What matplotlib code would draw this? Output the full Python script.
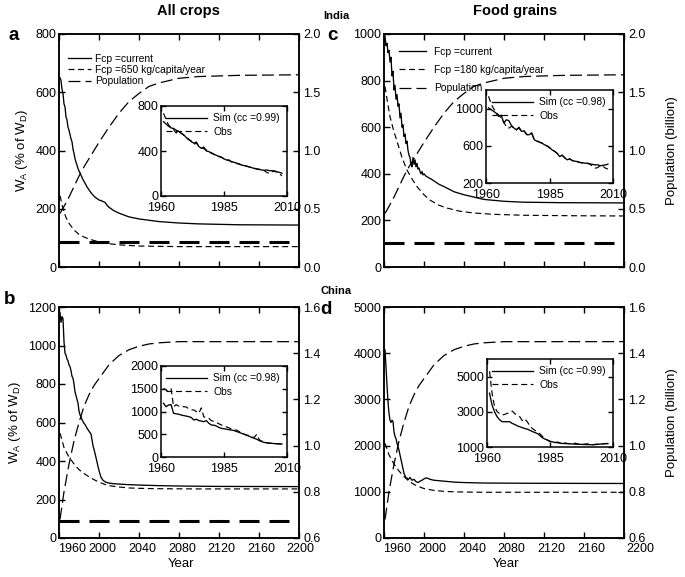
import matplotlib
matplotlib.use("Agg")
import matplotlib.pyplot as plt
import matplotlib.transforms as mtransforms

plt.rcParams['font.family'] = ['Liberation Sans', 'DejaVu Sans']
plt.rcParams['mathtext.default'] = 'regular'
plt.rcParams['lines.scale_dashes'] = False

# ---------------- data ----------------
# India, all crops (panel a)
a_years = [1961, 1962, 1963, 1964, 1965, 1966, 1967, 1968, 1969, 1970, 1971, 1972, 1973, 1974, 1975,
           1976, 1977, 1978, 1979, 1980, 1982, 1984, 1986, 1988, 1990, 1992, 1994, 1996, 1998, 2000,
           2002, 2004, 2006, 2008, 2010, 2015, 2020, 2030, 2040, 2060, 2080, 2100, 2140, 2200]
a_current = [650, 640, 610, 595, 560, 550, 515, 505, 480, 470, 455, 440, 430, 405, 390,
             372, 360, 350, 338, 330, 315, 300, 288, 275, 265, 255, 247, 240, 235, 230,
             228, 225, 222, 212, 205, 193, 185, 172, 165, 156, 151, 148, 145, 144]
a_fcp_years = [1961, 1964, 1967, 1970, 1975, 1980, 1985, 1990, 2000, 2010, 2020, 2040, 2060, 2080, 2120, 2200]
a_fcp = [245, 200, 170, 150, 127, 112, 103, 96, 86, 80, 76, 72, 71, 70, 70, 70]
a_threshold = 85

# India population (panels a, c)
pop_years_in = [1961, 1965, 1970, 1975, 1980, 1985, 1990, 1995, 2000, 2010, 2020, 2030, 2040,
                2050, 2060, 2080, 2100, 2140, 2200]
pop_india = [0.46, 0.52, 0.60, 0.69, 0.78, 0.86, 0.93, 1.00, 1.07, 1.20, 1.32, 1.42, 1.49,
             1.55, 1.58, 1.62, 1.635, 1.645, 1.65]

# India, food grains (panel c)
c_years = [1961, 1962, 1963, 1964, 1965, 1966, 1967, 1968, 1969, 1970, 1971, 1972, 1973, 1974,
           1975, 1976, 1977, 1978, 1979, 1980, 1981, 1982, 1983, 1984, 1985, 1986, 1987, 1988,
           1989, 1990, 1991, 1992, 1993, 1994, 1995, 1996, 1997, 1998, 1999, 2000, 2002, 2004,
           2006, 2008, 2015, 2020, 2030, 2040, 2060, 2080, 2100, 2140, 2200]
c_current = [990, 950, 960, 920, 930, 880, 900, 820, 840, 760, 780, 720, 740, 690,
             700, 640, 660, 600, 610, 560, 570, 530, 540, 500, 480, 470, 440, 430,
             470, 440, 460, 430, 445, 420, 425, 410, 400, 410, 395, 400, 390, 385,
             380, 375, 355, 345, 323, 310, 290, 282, 278, 276, 275]
c_fcp_years = [1961, 1963, 1966, 1970, 1973, 1978, 1983, 1988, 1993, 2000, 2006, 2015, 2023,
               2035, 2049, 2070, 2100, 2150, 2200]
c_fcp = [775, 720, 645, 580, 540, 470, 416, 378, 345, 310, 287, 265, 253, 240, 232, 226, 222, 220, 219]
c_threshold = 105

# China, all crops (panel b)
b_years = [1961, 1962, 1963, 1964, 1965, 1966, 1967, 1968, 1969, 1970, 1971, 1972, 1973, 1974,
           1975, 1976, 1977, 1978, 1979, 1980, 1981, 1982, 1983, 1984, 1985, 1986, 1988, 1990,
           1992, 1994, 1996, 1998, 2000, 2002, 2004, 2006, 2008, 2010, 2015, 2020, 2030, 2040,
           2060, 2080, 2120, 2200]
b_current = [1170, 1120, 1150, 1140, 1020, 960, 950, 930, 920, 900, 890, 870, 840, 830,
             800, 760, 740, 720, 700, 660, 640, 630, 615, 605, 595, 590, 570, 555,
             540, 480, 440, 395, 350, 315, 300, 292, 288, 285, 282, 280, 277, 275,
             272, 270, 268, 267]
b_fcp_years = [1961, 1965, 1970, 1975, 1980, 1985, 1990, 1995, 2000, 2005, 2010, 2020, 2030,
               2040, 2060, 2100, 2200]
b_fcp = [545, 470, 420, 385, 355, 335, 318, 303, 290, 280, 272, 265, 260, 258, 256, 255, 255]
b_threshold = 87

# China population (panels b, d)
pop_years_cn = [1961, 1965, 1970, 1975, 1980, 1985, 1990, 1995, 2000, 2005, 2010, 2020, 2030,
                2040, 2050, 2060, 2080, 2100, 2200]
pop_china = [0.68, 0.80, 0.92, 1.02, 1.10, 1.17, 1.22, 1.26, 1.29, 1.32, 1.35, 1.39, 1.415,
             1.43, 1.44, 1.445, 1.45, 1.45, 1.45]

# China, food grains (panel d)
d_years = [1961, 1962, 1963, 1964, 1965, 1966, 1967, 1968, 1969, 1970, 1971, 1972, 1973, 1974,
           1975, 1976, 1977, 1978, 1979, 1980, 1981, 1982, 1983, 1984, 1986, 1988, 1990, 1992,
           1994, 1996, 1998, 2000, 2002, 2004, 2006, 2008, 2010, 2020, 2030, 2040, 2060, 2100, 2200]
d_current = [4070, 3700, 3300, 2950, 2700, 2550, 2500, 2550, 2520, 2300, 2200, 2150, 2050, 1980,
             1900, 1800, 1700, 1600, 1500, 1400, 1350, 1290, 1300, 1260, 1310, 1250, 1270, 1220,
             1200, 1230, 1250, 1280, 1300, 1290, 1270, 1260, 1250, 1230, 1210, 1200, 1190, 1185, 1180]
d_fcp_years = [1961, 1965, 1970, 1975, 1980, 1985, 1990, 1995, 2000, 2010, 2020, 2030, 2040,
               2060, 2100, 2200]
d_fcp = [2050, 1800, 1600, 1450, 1330, 1230, 1160, 1110, 1070, 1030, 1010, 1000, 995, 990, 990, 990]

# Insets: simulated vs observed, 1961-2008
inset_years = list(range(1961, 2009))
ia_sim = [660, 640, 620, 605, 600, 585, 575, 557, 545, 520, 505, 483, 470, 480, 440, 424, 435, 400,
          395, 380, 370, 362, 350, 344, 330, 320, 315, 305, 300, 292, 285, 275, 270, 265, 258, 252,
          245, 240, 236, 231, 228, 232, 225, 225, 218, 215, 210, 202]
ia_obs = [735, 680, 631, 610, 590, 560, 580, 560, 540, 515, 500, 490, 460, 470, 445, 430, 420, 410,
          390, 385, 372, 360, 355, 345, 330, 325, 320, 303, 295, 290, 282, 278, 268, 265, 260, 250,
          248, 240, 238, 232, 225, 210, 200, 215, 225, 215, 200, 178]
ic_sim = [1008, 990, 971, 950, 917, 930, 845, 880, 870, 820, 791, 770, 800, 755, 760, 720, 719, 740,
          665, 650, 640, 630, 611, 600, 580, 557, 540, 520, 484, 500, 470, 449, 460, 440, 435, 430,
          420, 418, 413, 413, 405, 400, 395, 395, 385, 390, 395, 402]
ic_obs = [1133, 1050, 1000, 960, 930, 900, 860, 800, 790, 810, 790, 780, 790, 750, 760, 725, 715, 730,
          670, 655, 640, 628, 612, 598, 582, 555, 542, 518, 488, 498, 472, 450, 458, 442, 433, 428,
          422, 415, 412, 410, 400, 380, 360, 365, 390, 380, 360, 350]
ib_sim = [1180, 1105, 1143, 1150, 960, 950, 940, 923, 910, 900, 886, 870, 813, 830, 800, 790, 776, 800,
          740, 703, 700, 680, 650, 630, 620, 610, 600, 593, 580, 560, 540, 520, 500, 480, 455, 432,
          410, 390, 360, 337, 320, 310, 305, 300, 295, 292, 290, 286]
ib_obs = [1510, 1470, 1436, 1500, 1105, 1150, 1120, 1110, 1105, 1100, 1060, 1040, 1033, 1000, 960,
          1080, 880, 870, 850, 800, 780, 760, 730, 703, 680, 660, 640, 615, 600, 590, 560, 520, 500,
          480, 470, 440, 430, 500, 380, 350, 330, 315, 305, 300, 295, 290, 288, 285]
id_sim = [4060, 3390, 3000, 2722, 2550, 2435, 2435, 2440, 2435, 2340, 2280, 2205, 2150, 2100, 2050,
          2015, 1950, 1880, 1820, 1765, 1650, 1520, 1450, 1385, 1330, 1287, 1260, 1240, 1220, 1200,
          1195, 1190, 1180, 1170, 1160, 1155, 1150, 1145, 1140, 1135, 1130, 1130, 1140, 1150, 1165,
          1175, 1185, 1190]
id_obs = [5300, 4060, 3300, 3010, 2900, 2820, 2850, 2910, 2950, 3045, 2900, 2800, 2722, 2500, 2600,
          2430, 2200, 2050, 1950, 1850, 1750, 1600, 1500, 1400, 1300, 1320, 1250, 1280, 1240, 1220,
          1230, 1200, 1190, 1180, 1220, 1170, 1160, 1150, 1170, 1180, 1140, 1130, 1150, 1170, 1180,
          1190, 1200, 1200]

main_xticks = [1960, 2000, 2040, 2080, 2120, 2160, 2200]

# ---------------- styles ----------------
DPI = 100
W, H = 685, 577
LW_SOLID = 0.95
LS_FCP = (0, (4.3, 2.6))
LS_POP = (0, (8.6, 3.6))
LS_THR = (0, (14.4, 7.2))
TICK_FS = 9
LEG_FS = 7.4

fig = plt.figure(figsize=(W / DPI, H / DPI), dpi=DPI)


def fx(px):
    return px / W


def fy(py):
    return 1 - py / H


def box(l, t, r, b):
    return [fx(l), fy(b), fx(r) - fx(l), fy(t) - fy(b)]


def style_axis(ax):
    for s in ax.spines.values():
        s.set_linewidth(1.1)
    ax.tick_params(direction='in', length=4.5, width=1.0, labelsize=TICK_FS,
                   top=True, right=False, pad=2)


def main_panel(rect, years, current, fcp_years, fcp, pop_years, pop, ylim, yticks,
               pop_lim, pop_ticks, threshold=None, xlabel_shift=None):
    ax = fig.add_axes(rect)
    style_axis(ax)
    ax.set_xlim(1960, 2200)
    ax.set_ylim(*ylim)
    ax.set_yticks(yticks)
    ax.set_xticks(main_xticks)
    ax.set_xticklabels([])
    l1, = ax.plot(years, current, color='black', lw=LW_SOLID)
    l2, = ax.plot(fcp_years, fcp, color='black', lw=0.85, ls=LS_FCP)
    if threshold is not None:
        ax.axhline(threshold, color='black', lw=2.2, ls=LS_THR)
    ax2 = ax.twinx()
    ax2.set_ylim(*pop_lim)
    ax2.set_yticks(pop_ticks)
    ax2.set_yticklabels(['%.1f' % v for v in pop_ticks])
    for s in ax2.spines.values():
        s.set_linewidth(1.1)
    ax2.tick_params(direction='in', length=4.5, width=1.0, labelsize=TICK_FS, pad=3)
    l3, = ax2.plot(pop_years, pop, color='black', lw=0.9, ls=LS_POP)
    if xlabel_shift is not None:
        trans = mtransforms.blended_transform_factory(ax.transData, ax.transAxes)
        for t, dx in zip(main_xticks, xlabel_shift):
            # dx in pixels (1 year = 1 pixel on these axes)
            ax.text(t + dx, -0.022, str(t), transform=trans, ha='center', va='top',
                    fontsize=TICK_FS)
    return ax, ax2, (l1, l2, l3)


def inset(rect, years, sim, obs, ylim, yticks, label):
    ax = fig.add_axes(rect)
    style_axis(ax)
    ax.tick_params(right=True, length=3.5)
    ax.tick_params(axis='x', pad=4.5)
    ax.set_xlim(1960, 2010)
    ax.set_xticks([1960, 1985, 2010])
    ax.set_ylim(*ylim)
    ax.set_yticks(yticks)
    s1, = ax.plot(years, sim, color='black', lw=0.95)
    s2, = ax.plot(years, obs, color='black', lw=0.85, ls=LS_FCP)
    ax.legend([s1, s2], [label, 'Obs'], loc='upper right', frameon=False, fontsize=LEG_FS,
              handlelength=4.0, handletextpad=0.6, labelspacing=0.35, borderaxespad=0.3)
    return ax


axa, axa2, ha = main_panel(box(59, 34, 299, 267), a_years, a_current, a_fcp_years, a_fcp,
                           pop_years_in, pop_india, (0, 800), [0, 200, 400, 600, 800],
                           (0, 2.0), [0.0, 0.5, 1.0, 1.5, 2.0], threshold=a_threshold)
axc, axc2, hc = main_panel(box(384, 34, 624, 267), c_years, c_current, c_fcp_years, c_fcp,
                           pop_years_in, pop_india, (0, 1000), [0, 200, 400, 600, 800, 1000],
                           (0, 2.0), [0.0, 0.5, 1.0, 1.5, 2.0], threshold=c_threshold)
axb, axb2, hb = main_panel(box(59, 307, 299, 538), b_years, b_current, b_fcp_years, b_fcp,
                           pop_years_cn, pop_china, (0, 1200), [0, 200, 400, 600, 800, 1000, 1200],
                           (0.6, 1.6), [0.6, 0.8, 1.0, 1.2, 1.4, 1.6], threshold=b_threshold,
                           xlabel_shift=[13, 3, 3, 3, 2, 2, 1])
axd, axd2, hd = main_panel(box(384, 307, 624, 538), d_years, d_current, d_fcp_years, d_fcp,
                           pop_years_cn, pop_china, (0, 5000), [0, 1000, 2000, 3000, 4000, 5000],
                           (0.6, 1.6), [0.6, 0.8, 1.0, 1.2, 1.4, 1.6],
                           xlabel_shift=[13, 8, 8, 7, 7, 7, 16])

axa.legend(ha, ['Fcp =current', 'Fcp =650 kg/capita/year', 'Population'], loc='upper left',
           bbox_to_anchor=(0.01, 0.942), frameon=False, fontsize=LEG_FS, handlelength=2.3,
           handletextpad=0.4, labelspacing=0.12, borderaxespad=0.2)
axc.legend(hc, ['Fcp =current', 'Fcp =180 kg/capita/year', 'Population'], loc='upper left',
           bbox_to_anchor=(0.035, 0.972), frameon=False, fontsize=LEG_FS, handlelength=2.7,
           handletextpad=0.75, labelspacing=0.8, borderaxespad=0.2)

for ax in (axa, axb):
    ax.set_ylabel(r'W$_A$ (% of W$_D$)', fontsize=9.5, labelpad=4)
for ax in (axc2, axd2):
    ax.set_ylabel('Population (billion)', fontsize=9.5, labelpad=15)

inset(box(161, 106, 287, 196), inset_years, ia_sim, ia_obs, (0, 800), [0, 400, 800], 'Sim (cc =0.99)')
inset(box(486, 90, 613, 183), inset_years, ic_sim, ic_obs, (200, 1200), [200, 600, 1000], 'Sim (cc =0.98)')
inset(box(161, 366, 287, 457), inset_years, ib_sim, ib_obs, (0, 2000), [0, 500, 1000, 1500, 2000], 'Sim (cc =0.98)')
inset(box(487, 359, 613, 447), inset_years, id_sim, id_obs, (1000, 6000), [1000, 3000, 5000], 'Sim (cc =0.99)')

fig.text(fx(188), fy(11), 'All crops', fontsize=10.5, fontweight='bold', ha='center', va='center')
fig.text(fx(515), fy(11), 'Food grains', fontsize=10.5, fontweight='bold', ha='center', va='center')
fig.text(fx(336), fy(16), 'India', fontsize=8, fontweight='bold', ha='center', va='center')
fig.text(fx(336), fy(291), 'China', fontsize=8, fontweight='bold', ha='center', va='center')
fig.text(fx(181), fy(564), 'Year', fontsize=9.5, ha='center', va='center')
fig.text(fx(506), fy(564), 'Year', fontsize=9.5, ha='center', va='center')
fig.text(fx(14), fy(36), 'a', fontsize=13.5, fontweight='bold', ha='center', va='center')
fig.text(fx(332), fy(36), 'c', fontsize=13.5, fontweight='bold', ha='center', va='center')
fig.text(fx(10), fy(299), 'b', fontsize=13.5, fontweight='bold', ha='center', va='center')
fig.text(fx(326), fy(310), 'd', fontsize=13.5, fontweight='bold', ha='center', va='center')

fig.savefig('out.png', dpi=DPI)
